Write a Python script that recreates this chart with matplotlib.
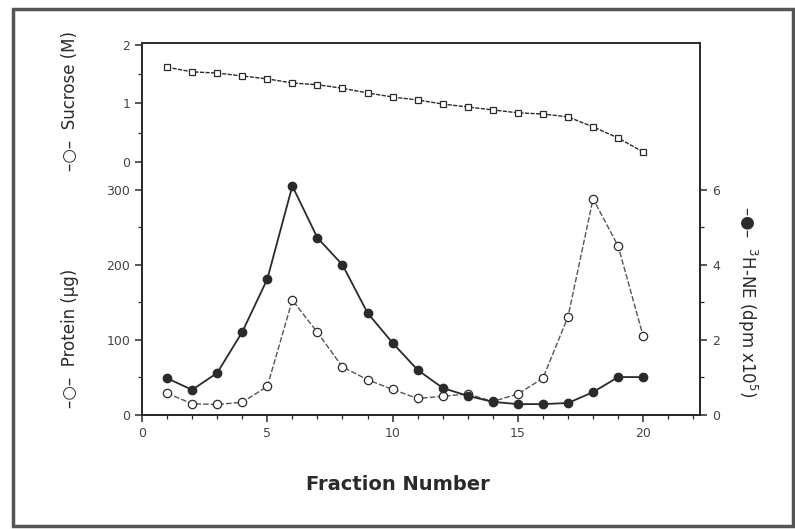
import numpy as np
import matplotlib.pyplot as plt
from matplotlib.patches import Rectangle
from matplotlib.ticker import MultipleLocator

# Fracciones del gradiente
fraction = np.arange(1, 21)
sucrose = [1.62, 1.54, 1.52, 1.47, 1.42, 1.35, 1.32, 1.26, 1.18, 1.11,
           1.06, 0.99, 0.94, 0.89, 0.84, 0.82, 0.77, 0.60, 0.41, 0.17]
protein = [29, 15, 14, 17, 38, 153, 110, 64, 47, 34,
           22, 25, 28, 18, 28, 49, 131, 288, 225, 105]
ne = [0.98, 0.67, 1.12, 2.21, 3.62, 6.10, 4.72, 4.00, 2.72, 1.92,
      1.20, 0.72, 0.51, 0.35, 0.29, 0.29, 0.32, 0.61, 1.01, 1.01]

ink = '#2a2a2a'
plt.rcParams['font.family'] = ['DejaVu Sans']

fig = plt.figure(figsize=(7.95, 5.29), dpi=100)

# marco exterior del escaneo
fig.patches.append(Rectangle((13 / 795, 1 - 526 / 529), (793 - 13) / 795, (526 - 9) / 529,
                             transform=fig.transFigure, fill=False,
                             edgecolor='#555555', linewidth=2.5))

ax_top = fig.add_axes([0.1786, 0.6938, 0.702, 0.225])
ax = fig.add_axes([0.1786, 0.2155, 0.702, 0.4783])
ax2 = ax.twinx()

# panel superior: sacarosa
ax_top.plot(fraction, sucrose, color=ink, linewidth=1.0, linestyle=(0, (3, 1)),
            marker='s', markersize=4, markerfacecolor='white', markeredgecolor=ink,
            markeredgewidth=0.9)
ax_top.set_xlim(0, 22.27)
ax_top.set_ylim(0, 2.034)
ax_top.set_yticks([0, 1, 2])
ax_top.yaxis.set_minor_locator(MultipleLocator(0.5))
ax_top.set_xticks([])
ax_top.spines['bottom'].set_visible(False)

# panel inferior: proteina y 3H-NE
ax.plot(fraction, protein, color='#555555', linewidth=1.0, linestyle=(0, (4, 1.5)),
        marker='o', markersize=6, markerfacecolor='white', markeredgecolor=ink,
        markeredgewidth=0.9)
ax2.plot(fraction, ne, color=ink, linewidth=1.3,
         marker='o', markersize=6, markerfacecolor=ink, markeredgecolor=ink)
ax.set_xlim(0, 22.27)
ax.set_ylim(0, 337)
ax2.set_ylim(0, 6.74)
ax.set_xticks([0, 5, 10, 15, 20])
ax.xaxis.set_minor_locator(MultipleLocator(1))
ax.set_yticks([0, 100, 200, 300])
ax.yaxis.set_minor_locator(MultipleLocator(50))
ax2.set_yticks([0, 2, 4, 6])
ax2.yaxis.set_minor_locator(MultipleLocator(1))
ax.spines['top'].set_visible(False)
ax2.spines['top'].set_visible(False)

for a in (ax_top, ax, ax2):
    for s in a.spines.values():
        s.set_color(ink)
        s.set_linewidth(1.4)
    a.tick_params(which='major', length=5, width=1.1, color=ink, labelsize=9,
                  labelcolor='#444444')
    a.tick_params(which='minor', length=3, width=0.9, color=ink)

fig.text(0.088, 0.81, '–○–  Sucrose (M)', rotation=90, ha='center', va='center',
         fontsize=12, color=ink)
fig.text(0.088, 0.36, '–○–  Protein (μg)', rotation=90, ha='center', va='center',
         fontsize=12, color=ink)
fig.text(0.94, 0.43, '–●–  $^3$H-NE (dpm x10$^5$)', rotation=270, ha='center',
         va='center', fontsize=12, color=ink)
fig.text(0.5, 0.085, 'Fraction Number', ha='center', va='center', fontsize=14,
         fontweight='bold', color=ink)

fig.savefig('out.png', dpi=100, facecolor='white')
